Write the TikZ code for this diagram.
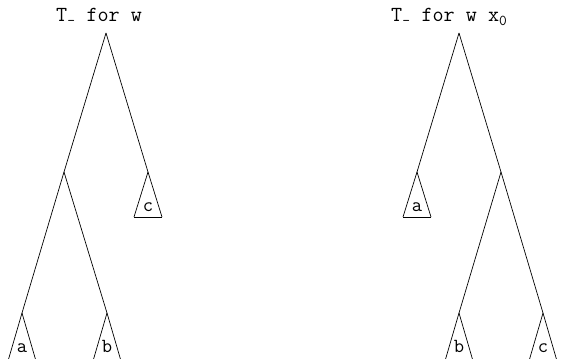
\documentclass[tikz,border=0pt]{standalone}
\usepackage{fontspec}
\tikzset{
  edge/.style={draw=black,line width=0.7pt},
  lbl/.style={inner sep=0pt,font=\ttfamily\fontsize{21.5}{24}\selectfont},
  leaf/.style={inner sep=0pt,anchor=base,font=\ttfamily\fontsize{20}{24}\selectfont},
}
\newcommand\mysubtri[5]{% name, x, y, letter, height
  \coordinate (#1) at (#2,#3);
  \draw[edge] (#1) -- ++(-14,#5) coordinate (#1l);
  \draw[edge] (#1) -- ++(14,#5) coordinate (#1r);
  \draw[edge] (#1l) -- (#1r);
  \node[leaf] (#1t) at ([yshift=-39pt]#1) {#4};
}
\begin{document}
\begin{tikzpicture}[x=1pt,y=-1pt]
\useasboundingbox (0,0) rectangle (561,358);
\clip (0,0) rectangle (561,358);
% left tree
\node[lbl,anchor=base west] (t1) at (56,22) {T\textsubscript{-} for w};
\coordinate (R1) at (106,33);
\coordinate (n1) at (64,172);
\mysubtri{c1}{148}{172}{c}{45}
\mysubtri{a1}{22}{313}{a}{48}
\mysubtri{b1}{107}{313}{b}{48}
\draw[edge] (R1) -- (n1);
\draw[edge] (R1) -- (c1);
\draw[edge] (n1) -- (a1);
\draw[edge] (n1) -- (b1);
% right tree
\node[lbl,anchor=base west] (t2) at (391,22) {T\textsubscript{-} for w x\textsubscript{0}};
\coordinate (R2) at (459,33);
\coordinate (n2) at (501,172);
\mysubtri{a2}{417}{172}{a}{45}
\mysubtri{b2}{459}{313}{b}{48}
\mysubtri{c2}{543}{313}{c}{48}
\draw[edge] (R2) -- (a2);
\draw[edge] (R2) -- (n2);
\draw[edge] (n2) -- (b2);
\draw[edge] (n2) -- (c2);
\end{tikzpicture}
\end{document}
